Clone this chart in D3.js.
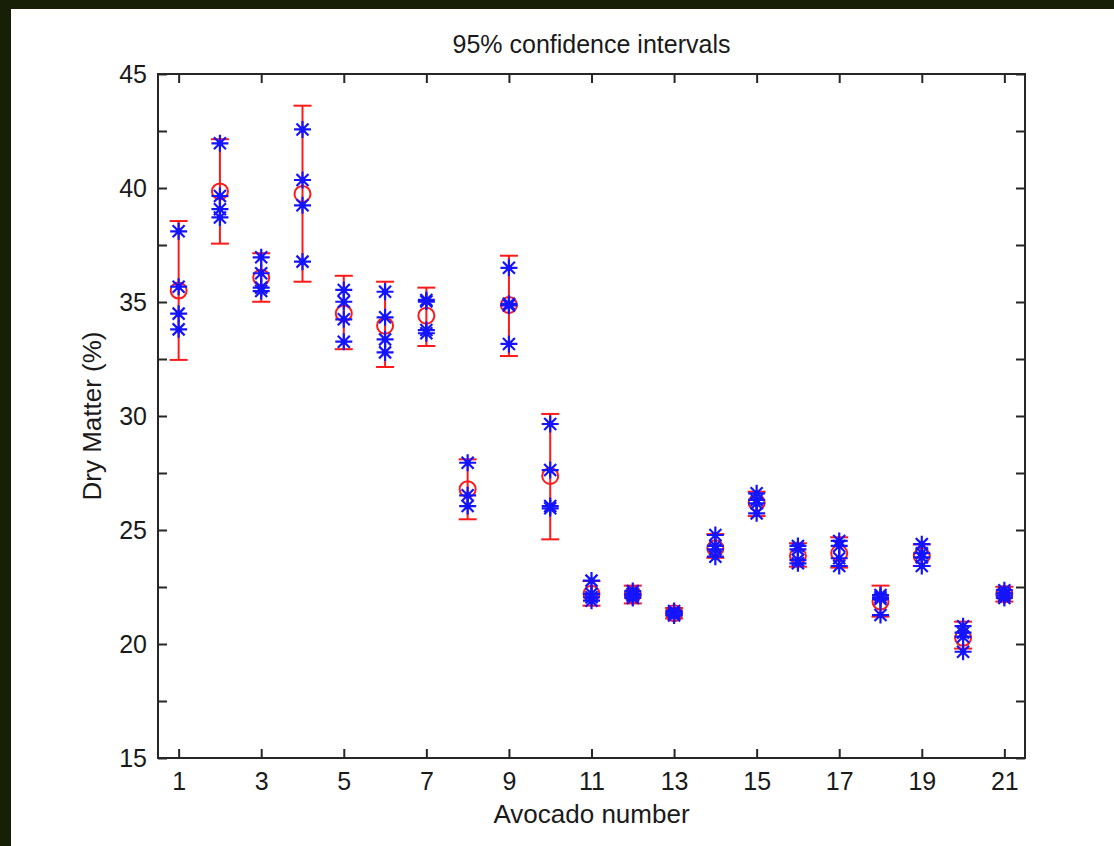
<!DOCTYPE html>
<html>
<head>
<meta charset="utf-8">
<script src="https://cdn.jsdelivr.net/npm/d3@7"></script>
<style>
  html, body { margin: 0; padding: 0; background: #172007; }
  svg { display: block; }
  text { font-family: "Liberation Sans", Arial, Helvetica, sans-serif; fill: #1a1a1a; }
</style>
</head>
<body>
<svg id="chart" width="1114" height="846"></svg>
<script>
// ---- data ----
const avocados = [1,2,3,4,5,6,7,8,9,10,11,12,13,14,15,16,17,18,19,20,21];
const means = [35.50, 39.85, 36.07, 39.74, 34.50, 33.96, 34.40, 26.79, 34.87, 27.37,
               22.20, 22.17, 21.35, 24.20, 26.20, 23.87, 23.98, 21.86, 23.86, 20.27, 22.19];
const lowerCI = [32.46, 37.56, 35.01, 35.89, 32.93, 32.15, 33.07, 25.47, 32.63, 24.59,
                 21.68, 21.78, 21.12, 23.78, 25.61, 23.39, 23.35, 21.20, 23.42, 19.80, 21.86];
const upperCI = [38.55, 42.14, 37.14, 43.61, 36.15, 35.89, 35.63, 28.10, 37.03, 30.09,
                 22.76, 22.56, 21.58, 24.82, 26.68, 24.42, 24.68, 22.56, 24.37, 20.98, 22.51];
const measurements = [
  [38.10, 35.67, 34.49, 33.80],
  [41.96, 39.65, 39.07, 38.71],
  [36.96, 36.26, 35.63, 35.48],
  [42.57, 40.35, 39.24, 36.77],
  [35.53, 35.01, 34.24, 33.26],
  [35.45, 34.33, 33.36, 32.79],
  [35.09, 35.02, 33.77, 33.63],
  [27.95, 26.52, 26.05],
  [36.50, 34.92, 34.85, 33.16],
  [29.65, 27.63, 26.05, 25.95],
  [22.78, 22.20, 22.05, 21.90],
  [22.32, 22.20, 22.12, 22.02],
  [21.45, 21.37, 21.30, 21.25],
  [24.78, 24.30, 24.15, 23.83],
  [26.61, 26.32, 26.17, 25.73],
  [24.30, 24.15, 23.68, 23.54],
  [24.52, 24.30, 23.76, 23.42],
  [22.15, 22.05, 21.97, 21.27],
  [24.38, 23.98, 23.80, 23.42],
  [20.78, 20.50, 20.32, 19.66],
  [22.36, 22.22, 22.12, 22.02]
];
const xTicks = [1,3,5,7,9,11,13,15,17,19,21];
const yTicks = [15,17.5,20,22.5,25,27.5,30,32.5,35,37.5,40,42.5,45];
const yLabels = [15,20,25,30,35,40,45];
const titleText = "95% confidence intervals";
const xLabelText = "Avocado number";
const yLabelText = "Dry Matter (%)";

// ---- layout ----
const W = 1114, H = 846;
const plot = {left: 158, top: 74, right: 1025, bottom: 758};
const svg = d3.select("#chart");

// background: dark photo border + white figure
svg.append("rect").attr("x", 0).attr("y", 0).attr("width", W).attr("height", H).attr("fill", "#172007");
svg.append("rect").attr("x", 11).attr("y", 9).attr("width", W - 11).attr("height", H - 9).attr("fill", "#ffffff");

const x = d3.scaleLinear().domain([0.5, 21.5]).range([plot.left, plot.right]);
const y = d3.scaleLinear().domain([15, 45]).range([plot.bottom, plot.top]);

const axisColor = "#262626";
const tickLen = 9;

// axes (box with inward ticks on all sides)
const gBottom = svg.append("g").attr("transform", `translate(0,${plot.bottom})`)
  .call(d3.axisBottom(x).tickValues(xTicks).tickSize(-tickLen).tickPadding(14).tickFormat(d3.format("d")));
const gTop = svg.append("g").attr("transform", `translate(0,${plot.top})`)
  .call(d3.axisTop(x).tickValues(xTicks).tickSize(-tickLen).tickFormat(""));
const gLeft = svg.append("g").attr("transform", `translate(${plot.left},0)`)
  .call(d3.axisLeft(y).tickValues(yTicks).tickSize(-tickLen).tickPadding(11)
    .tickFormat(d => yLabels.includes(d) ? d3.format("d")(d) : ""));
const gRight = svg.append("g").attr("transform", `translate(${plot.right},0)`)
  .call(d3.axisRight(y).tickValues(yTicks).tickSize(-tickLen).tickFormat(""));

[gBottom, gTop, gLeft, gRight].forEach(g => {
  g.select(".domain").remove();
  g.selectAll(".tick line").attr("stroke", axisColor).attr("stroke-width", 2);
  g.selectAll(".tick text").style("font-size", "25px").attr("fill", "#1a1a1a");
});
gBottom.selectAll(".tick text").attr("dy", "0.71em");

// box frame
svg.append("rect")
  .attr("x", plot.left).attr("y", plot.top)
  .attr("width", plot.right - plot.left).attr("height", plot.bottom - plot.top)
  .attr("fill", "none").attr("stroke", axisColor).attr("stroke-width", 2);

// ---- error bars ----
const red = "#ff1a1a";
const blue = "#1414ff";
const capHalf = 9;
const data = avocados.map((a, i) => ({a, m: means[i], lo: lowerCI[i], hi: upperCI[i], pts: measurements[i]}));

const eb = svg.append("g").attr("stroke", red).attr("stroke-width", 2).attr("fill", "none");
eb.selectAll("line.v").data(data).join("line").attr("class", "v")
  .attr("x1", d => x(d.a)).attr("x2", d => x(d.a))
  .attr("y1", d => y(d.lo)).attr("y2", d => y(d.hi));
eb.selectAll("line.capHi").data(data).join("line").attr("class", "capHi")
  .attr("x1", d => x(d.a) - capHalf).attr("x2", d => x(d.a) + capHalf)
  .attr("y1", d => y(d.hi)).attr("y2", d => y(d.hi));
eb.selectAll("line.capLo").data(data).join("line").attr("class", "capLo")
  .attr("x1", d => x(d.a) - capHalf).attr("x2", d => x(d.a) + capHalf)
  .attr("y1", d => y(d.lo)).attr("y2", d => y(d.lo));

// mean circles
svg.append("g").selectAll("circle").data(data).join("circle")
  .attr("cx", d => x(d.a)).attr("cy", d => y(d.m)).attr("r", 8)
  .attr("fill", "none").attr("stroke", red).attr("stroke-width", 2);

// ---- measurement asterisks ----
const pts = data.flatMap(d => d.pts.map(v => ({a: d.a, v})));
const starR = 8.5, diag = 6;
const starPath = `M${-starR},0L${starR},0M0,${-starR}L0,${starR}` +
                 `M${-diag},${-diag}L${diag},${diag}M${-diag},${diag}L${diag},${-diag}`;
svg.append("g").selectAll("path").data(pts).join("path")
  .attr("transform", d => `translate(${x(d.a)},${y(d.v)})`)
  .attr("d", starPath)
  .attr("fill", "none").attr("stroke", blue).attr("stroke-width", 2.2);
svg.append("g").selectAll("circle").data(pts).join("circle")
  .attr("cx", d => x(d.a)).attr("cy", d => y(d.v)).attr("r", 3)
  .attr("fill", blue);

// ---- texts ----
svg.append("text").attr("x", (plot.left + plot.right) / 2).attr("y", 53)
  .attr("text-anchor", "middle").style("font-size", "25px").text(titleText);
svg.append("text").attr("x", (plot.left + plot.right) / 2).attr("y", 823)
  .attr("text-anchor", "middle").style("font-size", "26px").text(xLabelText);
svg.append("text").attr("transform", `translate(101,${(plot.top + plot.bottom) / 2}) rotate(-90)`)
  .attr("text-anchor", "middle").style("font-size", "26px").text(yLabelText);
</script>
</body>
</html>
